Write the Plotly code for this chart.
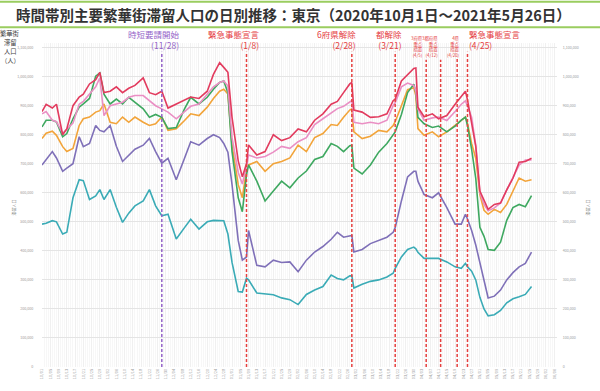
import plotly.graph_objects as go
import pandas as pd

# ---------------- data (values in thousands of people) ----------------
START = "2020-10-01"
DAYS = [0, 2, 5, 7, 10, 12, 15, 18, 20, 23, 26, 28, 30, 33, 36, 39, 42, 45, 49, 52,
        55, 58, 61, 65, 69, 72, 76, 80, 83, 86, 88, 90, 92, 95, 97, 99, 100, 104, 108, 112,
        116, 120, 124, 128, 132, 136, 140, 143, 146, 149, 150, 151, 155, 159, 163, 167, 170, 171, 174, 177,
        180, 181, 182, 185, 189, 192, 196, 200, 203, 205, 206, 208, 210, 212, 214, 216, 219, 222, 225, 228,
        231, 234, 237]

RED_K = [880, 905, 892, 905, 800, 820, 900, 930, 940, 975, 990, 1015, 945, 950, 965, 945, 960, 970, 996, 945,
         938, 950, 892, 906, 920, 930, 925, 950, 1008, 1048, 1032, 1015, 860, 710, 655, 700, 765, 730, 742, 800,
         780, 790, 820, 810, 850, 872, 905, 915, 945, 975, 980, 885, 878, 860, 862, 872, 917, 923, 985, 1008,
         1028, 1030, 895, 862, 872, 855, 866, 905, 932, 950, 920, 840, 760, 606, 572, 543, 560, 565, 610, 650,
         705, 708, 719]
PINK_K = [872, 880, 850, 845, 805, 820, 840, 905, 915, 940, 965, 996, 866, 900, 905, 912, 929, 935, 935, 917,
          900, 889, 878, 855, 880, 898, 906, 940, 965, 980, 985, 968, 790, 670, 630, 690, 730, 720, 725, 740,
          760, 753, 776, 790, 835, 855, 875, 890, 898, 915, 918, 843, 838, 843, 838, 850, 900, 910, 965, 978,
          970, 950, 889, 850, 858, 861, 849, 880, 905, 917, 900, 860, 764, 600, 560, 538, 548, 565, 610, 650,
          695, 713, 713]
GREEN_K = [827, 850, 850, 844, 793, 804, 855, 895, 906, 925, 1002, 1013, 940, 906, 923, 906, 929, 912, 889, 860,
           870, 860, 821, 825, 889, 929, 906, 929, 957, 980, 985, 945, 742, 583, 535, 662, 696, 640, 572, 606,
           640, 617, 651, 675, 715, 725, 770, 760, 742, 762, 764, 685, 665, 696, 740, 770, 798, 810, 870, 945,
           974, 945, 860, 838, 825, 830, 810, 830, 850, 861, 832, 750, 650, 481, 450, 405, 402, 430, 505, 549,
           560, 552, 590]
ORANGE_K = [787, 805, 812, 798, 759, 742, 753, 832, 855, 861, 878, 883, 906, 843, 838, 861, 843, 861, 843, 832,
            838, 861, 815, 821, 849, 872, 866, 895, 925, 950, 957, 940, 764, 628, 583, 680, 696, 708, 674, 700,
            708, 720, 764, 742, 790, 804, 835, 832, 860, 885, 889, 810, 787, 795, 815, 810, 832, 845, 900, 955,
            962, 934, 821, 798, 810, 793, 810, 832, 850, 861, 840, 770, 719, 594, 540, 526, 543, 532, 560, 606,
            651, 640, 645]
PURPLE_K = [696, 715, 742, 720, 674, 685, 700, 793, 759, 770, 832, 815, 810, 832, 760, 708, 730, 750, 764, 787,
            742, 702, 719, 645, 719, 776, 764, 787, 800, 790, 770, 740, 628, 436, 368, 379, 470, 350, 345, 368,
            360, 362, 328, 368, 396, 415, 440, 464, 447, 453, 453, 396, 405, 425, 436, 447, 464, 480, 572, 655,
            674, 674, 640, 594, 583, 600, 549, 492, 492, 526, 510, 470, 420, 357, 290, 238, 244, 265, 300, 325,
            345, 357, 396]
TEAL_K = [492, 495, 504, 500, 458, 464, 583, 645, 642, 577, 589, 611, 577, 611, 550, 498, 530, 555, 572, 611,
          555, 521, 526, 441, 480, 509, 475, 500, 505, 504, 504, 458, 360, 260, 258, 306, 300, 255, 252, 249,
          238, 232, 215, 250, 265, 277, 317, 305, 300, 314, 314, 272, 285, 295, 300, 310, 323, 340, 379, 405,
          413, 407, 395, 374, 374, 374, 362, 345, 340, 357, 345, 330, 300, 240, 200, 176, 180, 195, 221, 235,
          242, 250, 277]

SERIES_NAMES = ["系列6", "系列5", "系列4", "系列3", "系列2", "系列1"]
SERIES_VALUES = [TEAL_K, PURPLE_K, ORANGE_K, GREEN_K, PINK_K, RED_K]
SERIES_COLORS = ["#3aabb6", "#7f70b8", "#f2a43a", "#3ea860", "#ea8fc4", "#e23b5e"]

EVENT_DATES = ["2020-11-28", "2021-01-08", "2021-02-28", "2021-03-21",
               "2021-04-05", "2021-04-12", "2021-04-20", "2021-04-25"]
EVENT_TEXT = ["時短要請開始<br>(11/28)", "緊急事態宣言<br>(1/8)", "6府県解除<br>(2/28)", "都解除<br>(3/21)",
              "3府県<br>重点<br>措置<br>(4/5)", "3都府県<br>重点<br>措置<br>(4/12)",
              "4県<br>重点<br>措置<br>(4/20)", "緊急事態宣言<br>(4/25)"]
EVENT_COLORS = ["#9463c8", "#e5403f", "#e5403f", "#e5403f", "#e5403f", "#e5403f", "#e5403f", "#e5403f"]

Y_TICKS = list(range(0, 1100001, 100000))

TITLE = "時間帯別主要繁華街滞留人口の日別推移：東京（2020年10月1日～2021年5月26日）"
UNIT_LABEL = ["繁華街", "滞留", "人口", "（人）"]

# ---------------- figure ----------------
W, H = 600, 391
ML, MR, MT, MB = 42, 43, 43, 19
PW, PH = W - ML - MR, H - MT - MB
YMAX = 1116000


def px(x):
    return (x - ML) / PW


def py(y):
    return (H - MB - y) / PH


def yval(y):
    return (H - MB - y) / PH * YMAX


dates = pd.Timestamp(START) + pd.to_timedelta(DAYS, unit="D")

fig = go.Figure()
for name, vals, col in zip(SERIES_NAMES, SERIES_VALUES, SERIES_COLORS):
    fig.add_trace(go.Scatter(x=dates, y=[v * 1000 for v in vals], mode="lines", name=name,
                             line=dict(color=col, width=1.6), hoverinfo="skip"))
# invisible trace to activate the right-hand axis
fig.add_trace(go.Scatter(x=[dates[0]], y=[None], yaxis="y2", showlegend=False, hoverinfo="skip"))

FONT = "Noto Sans CJK JP"
fig.update_layout(
    width=W, height=H, margin=dict(l=ML, r=MR, t=MT, b=MB),
    paper_bgcolor="white", plot_bgcolor="white", showlegend=False,
    font=dict(family=FONT, color="#333333"),
    xaxis=dict(type="date", range=["2020-10-01", "2021-06-07 08:00"],
               tick0="2020-10-05", dtick=4 * 86400000, tickformat="%m/%d", tickangle=-90,
               tickfont=dict(size=4, color="#a0a0a0"), showgrid=True, gridcolor="#f0f0f0",
               gridwidth=1, minor=dict(dtick=86400000, showgrid=True, gridcolor="#f7f7f7"),
               showline=False, zeroline=False, ticks=""),
    yaxis=dict(range=[0, YMAX], tickvals=Y_TICKS, tickformat=",", tickfont=dict(size=3.6, color="#9a9a9a"),
               showgrid=True, gridcolor="#e4e4e4", zeroline=False, ticks="outside", ticklen=7,
               tickcolor="rgba(0,0,0,0)", showline=False),
    yaxis2=dict(range=[0, YMAX], tickvals=Y_TICKS, tickformat=",", tickfont=dict(size=3.6, color="#9a9a9a"),
                overlaying="y", side="right", showgrid=False, zeroline=False, ticks="outside", ticklen=4,
                tickcolor="rgba(0,0,0,0)", showline=False),
)

# header green lines
for yy in (1, 27):
    fig.add_shape(type="line", xref="paper", yref="paper", x0=px(0), x1=px(W), y0=py(yy), y1=py(yy),
                  line=dict(color="#9acd5f", width=2))

fig.add_annotation(text="<b>" + TITLE + "</b>", xref="paper", yref="paper", x=px(293), y=py(14),
                   xanchor="center", yanchor="middle", showarrow=False,
                   font=dict(size=14.5, color="#333333", family=FONT))

# left unit label, one row at a time
for txt, yy in zip(UNIT_LABEL, (33, 42, 51.5, 60.5)):
    fig.add_annotation(text=txt, xref="paper", yref="paper", x=px(10), y=py(yy),
                       xanchor="center", yanchor="middle", showarrow=False,
                       font=dict(size=6.3, color="#444444", family=FONT))
for xx in (14, 588):
    fig.add_annotation(text="滞留人口", xref="paper", yref="paper", x=px(xx), y=py(210), textangle=-90,
                       xanchor="center", yanchor="middle", showarrow=False,
                       font=dict(size=4, color="#777777", family=FONT))

# event lines and labels
LINE_TOP = [52, 52, 52, 52, 60, 60, 57, 52]
LABEL_X = [182, 262, 358, 404, 425, 440, 462, 467]
LABEL_ANCHOR = ["right", "right", "right", "right", "right", "right", "right", "left"]
LABEL_SIZE = [8.5, 8.5, 8.5, 8.5, 4.4, 4.4, 4.4, 8.5]
LABEL_BOTTOM = [53, 53, 53, 53, 60, 60, 60, 53]
for d, txt, col, top, lx, la, ls, lb in zip(EVENT_DATES, EVENT_TEXT, EVENT_COLORS, LINE_TOP,
                                            LABEL_X, LABEL_ANCHOR, LABEL_SIZE, LABEL_BOTTOM):
    fig.add_shape(type="line", xref="x", yref="y", x0=d, x1=d, y0=0, y1=yval(top),
                  line=dict(color=col, width=1.5, dash="3px,2px"))
    fig.add_annotation(text=txt, xref="paper", yref="paper", x=px(lx), y=py(lb), xanchor=la,
                       yanchor="bottom", align=la, showarrow=False,
                       font=dict(size=ls, color=col, family=FONT))

fig.write_html("out.html")
